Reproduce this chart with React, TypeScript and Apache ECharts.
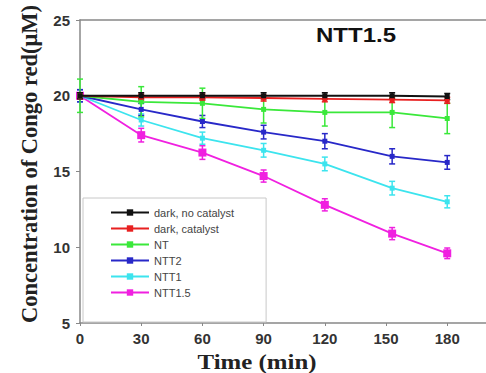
import React, { useEffect, useRef } from "react";
import * as echarts from "echarts";

const times = [0, 30, 60, 90, 120, 153, 180];
const seriesNames = ["dark, no catalyst", "dark, catalyst", "NT", "NTT2", "NTT1", "NTT1.5"];
const darkNoCat = [20, 20, 20, 20, 20, 20, 19.95];
const darkCat = [20, 19.9, 19.9, 19.85, 19.8, 19.75, 19.7];
const nt = [20, 19.6, 19.5, 19.1, 18.9, 18.9, 18.5];
const ntt2 = [20, 19.1, 18.3, 17.6, 17.0, 16.0, 15.6];
const ntt1 = [20, 18.4, 17.2, 16.4, 15.5, 13.9, 13.0];
const ntt15 = [20, 17.4, 16.25, 14.7, 12.8, 10.9, 9.6];

const errDarkNoCat = [0.2, 0.2, 0.2, 0.2, 0.2, 0.2, 0.2];
const errDarkCat = [0.2, 0.2, 0.2, 0.2, 0.2, 0.2, 0.2];
const errNt = [1.1, 1.0, 1.0, 0.9, 0.9, 1.0, 1.0];
const errNtt2 = [0.4, 0.4, 0.4, 0.45, 0.5, 0.5, 0.45];
const errNtt1 = [0.4, 0.4, 0.4, 0.45, 0.45, 0.45, 0.4];
const errNtt15 = [0.4, 0.45, 0.45, 0.4, 0.4, 0.4, 0.35];

const yTicks = { min: 5, max: 25, interval: 5 };
const xTicks = { min: 0, max: 199, interval: 30 };
const titleText = "NTT1.5";
const xName = "Time (min)";
const yName = "Concentration of Congo red(μM)";

const colors = ["#111111", "#e82020", "#3ae83a", "#2828c8", "#3ce4ee", "#f020e0"];
const values = [darkNoCat, darkCat, nt, ntt2, ntt1, ntt15];
const errors = [errDarkNoCat, errDarkCat, errNt, errNtt2, errNtt1, errNtt15];
const symbolSizes = [5, 5, 5, 5, 5, 8];
const zOrder = [8, 7, 6, 5, 4, 3];

export default function App() {
  const ref = useRef<HTMLDivElement>(null);
  useEffect(() => {
    if (!ref.current) return;
    const chart = echarts.init(ref.current, undefined, { renderer: "svg" });
    const lineSeries: any[] = seriesNames.map((name, i) => ({
      name,
      type: "line",
      data: times.map((t, j) => [t, values[i][j]]),
      symbol: "rect",
      symbolSize: symbolSizes[i],
      lineStyle: { color: colors[i], width: 1.8 },
      itemStyle: { color: colors[i] },
      z: zOrder[i] + 2,
    }));
    const errSeries: any[] = seriesNames.map((name, i) => ({
      name: name + " err",
      type: "custom",
      data: times.map((t, j) => [t, values[i][j] - errors[i][j], values[i][j] + errors[i][j]]),
      encode: { x: 0, y: [1, 2] },
      z: zOrder[i],
      renderItem: (params: any, api: any) => {
        const x = api.value(0);
        const p1 = api.coord([x, api.value(2)]);
        const p2 = api.coord([x, api.value(1)]);
        const w = 3;
        const st = { stroke: colors[i], lineWidth: 1.5 };
        return {
          type: "group",
          children: [
            { type: "line", shape: { x1: p1[0], y1: p1[1], x2: p2[0], y2: p2[1] }, style: st },
            { type: "line", shape: { x1: p1[0] - w, y1: p1[1], x2: p1[0] + w, y2: p1[1] }, style: st },
            { type: "line", shape: { x1: p2[0] - w, y1: p2[1], x2: p2[0] + w, y2: p2[1] }, style: st },
          ],
        };
      },
    }));
    chart.setOption({
      animation: false,
      backgroundColor: "#ffffff",
      grid: { left: 80, top: 20, right: 0, bottom: 50 },
      graphic: [
        {
          type: "text",
          x: 356,
          y: 35,
          scaleX: 1.2,
          style: {
            text: titleText,
            fontFamily: "Liberation Sans, Arial",
            fontWeight: "bold",
            fontSize: 20,
            fill: "#111",
            textAlign: "center",
            verticalAlign: "middle",
          },
        },
        {
          type: "text",
          x: 257,
          y: 362,
          scaleX: 1.13,
          style: {
            text: xName,
            fontFamily: "Liberation Serif, Times New Roman",
            fontWeight: "bold",
            fontSize: 22,
            fill: "#222",
            textAlign: "center",
            verticalAlign: "middle",
          },
        },
        {
          type: "text",
          x: 29,
          y: 164,
          rotation: Math.PI / 2,
          style: {
            text: yName,
            fontFamily: "Liberation Serif, Times New Roman",
            fontWeight: "bold",
            fontSize: 22.5,
            fill: "#222",
            textAlign: "center",
            verticalAlign: "middle",
          },
        },
      ],
      legend: {
        data: seriesNames,
        orient: "vertical",
        left: 83,
        top: 198,
        itemWidth: 38,
        itemHeight: 8,
        itemGap: 5,
        padding: [9, 32, 24, 27],
        backgroundColor: "#ffffff",
        borderColor: "#c8c8c8",
        borderWidth: 1,
        textStyle: { fontFamily: "Liberation Sans, Arial", fontSize: 11, color: "#444" },
        z: 20,
      },
      xAxis: [
        {
          type: "value",
          min: xTicks.min,
          max: xTicks.max,
          interval: xTicks.interval,
          axisLine: { lineStyle: { color: "#888", width: 1.5 } },
          axisTick: { show: true, length: 3, lineStyle: { color: "#888" } },
          axisLabel: {
            showMaxLabel: false,
            margin: 8,
            fontFamily: "Liberation Sans, Arial",
            fontWeight: "bold",
            fontSize: 15,
            color: "#333",
          },
          splitLine: { show: false },
        },
        {
          type: "value",
          position: "top",
          min: xTicks.min,
          max: xTicks.max,
          axisLine: { show: true, lineStyle: { color: "#888", width: 1.5 } },
          axisTick: { show: false },
          axisLabel: { show: false },
          splitLine: { show: false },
        },
      ],
      yAxis: {
        type: "value",
        min: yTicks.min,
        max: yTicks.max,
        interval: yTicks.interval,
        axisLine: { show: true, lineStyle: { color: "#888", width: 1.5 } },
        axisTick: { show: true, length: 4, lineStyle: { color: "#888" } },
        axisLabel: { margin: 10, fontFamily: "Liberation Sans, Arial", fontWeight: "bold", fontSize: 15, color: "#333" },
        splitLine: { show: false },
      },
      series: [...errSeries, ...lineSeries],
    });
    return () => chart.dispose();
  }, []);
  return <div ref={ref} style={{ position: "absolute", left: 0, top: 0, width: 486, height: 373 }} />;
}
